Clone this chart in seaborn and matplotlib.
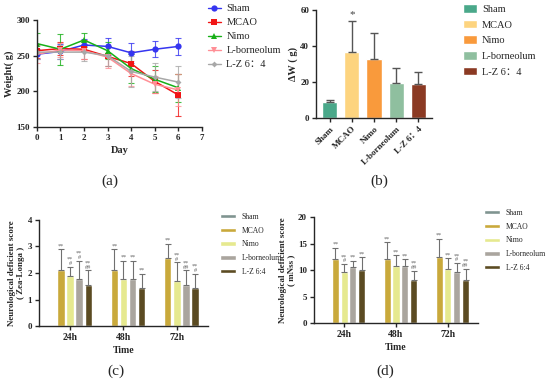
import numpy as np
import pandas as pd
import seaborn as sns
import matplotlib
matplotlib.use("Agg")
import matplotlib.pyplot as plt
from matplotlib.patches import Patch
from matplotlib.lines import Line2D

# ---------------- data ----------------
groups = ["Sham", "MCAO", "Nimo", "L-borneolum", "L-Z 6：4"]

# (a) body weight over days
days = [0, 1, 2, 3, 4, 5, 6]
weight_sham = [252, 256, 265, 263, 254, 259, 263]
weight_mcao = [257, 260, 259, 249, 239, 214, 195]
weight_nimo = [267, 259, 272, 257, 232, 217, 205]
weight_lb = [252, 258, 257, 248, 225, 210, 202]
weight_lz = [255, 255, 255, 250, 228, 220, 213]
err_sham = [7, 10, 8, 12, 14, 11, 12]
err_mcao = [10, 9, 13, 14, 18, 16, 29]
err_nimo = [15, 22, 10, 12, 20, 18, 20]
err_lb = [12, 10, 12, 15, 18, 12, 22]
err_lz = [10, 10, 12, 14, 22, 20, 22]

# (b) weight loss
dw_mean = [9, 36.5, 33, 19.5, 19]
dw_err = [1, 17.5, 14, 8.5, 6.5]

# (c) Zea-Longa score, (d) mNSS score
times = ["24h", "48h", "72h"]
bar_groups = ["Sham", "MCAO", "Nimo", "L-borneolum", "L-Z 6:4"]
zl_mean = {"Sham": [0, 0, 0], "MCAO": [2.1, 2.1, 2.55], "Nimo": [1.88, 1.78, 1.68],
           "L-borneolum": [1.78, 1.78, 1.55], "L-Z 6:4": [1.55, 1.45, 1.45]}
zl_err = {"Sham": [0, 0, 0], "MCAO": [0.8, 0.8, 0.55], "Nimo": [0.35, 0.68, 0.72],
          "L-borneolum": [0.68, 0.68, 0.55], "L-Z 6:4": [0.55, 0.52, 0.52]}
zl_marks = {"Sham": ["", "", ""], "MCAO": ["**", "**", "**"], "Nimo": ["**\n#", "**", "**\n#"],
            "L-borneolum": ["**\n#", "**", "**\n##"], "L-Z 6:4": ["**\n##", "**", "**\n#"]}
mnss_mean = {"Sham": [0, 0, 0], "MCAO": [12, 12, 12.4], "Nimo": [9.7, 10.8, 10.2],
             "L-borneolum": [10.5, 10.7, 9.7], "L-Z 6:4": [10, 8.1, 8.2]}
mnss_err = {"Sham": [0, 0, 0], "MCAO": [2.2, 3.3, 3.5], "Nimo": [1.4, 2.0, 2.0],
            "L-borneolum": [1.3, 1.4, 1.6], "L-Z 6:4": [2.4, 1.8, 2.0]}
mnss_marks = {"Sham": ["", "", ""], "MCAO": ["**", "**", "**"], "Nimo": ["**\n#", "**", "**"],
              "L-borneolum": ["**", "**", "**\n#"], "L-Z 6:4": ["**", "**\n##", "**\n##"]}

line_colors = ["#3535f0", "#f01515", "#18b018", "#ff8f96", "#a8a8a8"]
line_markers = ["o", "s", "^", "v", "D"]
marker_sizes = [4.5, 4.5, 4.5, 4.5, 3]
dw_colors = ["#4aa88a", "#fdd47f", "#f99a3c", "#8fbf9f", "#8b3a23"]
score_colors = ["#7f9490", "#c9a93b", "#e6e98f", "#aaa59e", "#5b4b22"]

# ---------------- style ----------------
sns.set_style("ticks")
plt.rcParams["font.family"] = ["Liberation Serif", "Noto Sans CJK SC", "DejaVu Sans"]
plt.rcParams["axes.linewidth"] = 1.0
plt.rcParams["xtick.major.size"] = 3
plt.rcParams["ytick.major.size"] = 3

fig = plt.figure(figsize=(5.5, 3.85), dpi=100)


def style_axis(ax):
    sns.despine(ax=ax)
    for lab in ax.get_xticklabels() + ax.get_yticklabels():
        lab.set_fontweight("bold")
    ax.tick_params(labelsize=6.5, width=1, pad=2)


# ========== (a) ==========
ax_a = fig.add_axes([0.067, 0.670, 0.300, 0.278])
wdf = pd.DataFrame({
    "Day": days * 5,
    "Weight": weight_sham + weight_mcao + weight_nimo + weight_lb + weight_lz,
    "err": err_sham + err_mcao + err_nimo + err_lb + err_lz,
    "group": np.repeat(groups, len(days)),
})
for g, c in zip(groups, line_colors):
    sub = wdf[wdf["group"] == g]
    ax_a.errorbar(sub["Day"], sub["Weight"], yerr=sub["err"], fmt="none",
                  ecolor=c, elinewidth=0.8, capsize=2, capthick=0.8, alpha=0.8)
for g, c, m, ms in zip(groups, line_colors, line_markers, marker_sizes):
    sns.lineplot(data=wdf[wdf["group"] == g], x="Day", y="Weight", color=c,
                 marker=m, markersize=ms, markeredgewidth=0, linewidth=1.1,
                 legend=False, ax=ax_a)
ax_a.set_xlim(0, 7)
ax_a.set_ylim(150, 300)
ax_a.set_xticks(range(0, 8))
ax_a.set_yticks([150, 200, 250, 300])
ax_a.set_xlabel("Day", fontsize=7.5, fontweight="bold", labelpad=3)
ax_a.set_ylabel("Weight( g)", fontsize=7.5, fontweight="bold", labelpad=2)
style_axis(ax_a)
handles_a = [Line2D([], [], color=c, marker=m, markersize=ms, markeredgewidth=0, linewidth=1)
             for c, m, ms in zip(line_colors, line_markers, marker_sizes)]
ax_a.legend(handles_a, groups, loc="upper left", bbox_to_anchor=(0.37, 1.0),
            bbox_transform=fig.transFigure, frameon=False, fontsize=7.5,
            handlelength=1.3, handletextpad=0.5, labelspacing=0.45, borderaxespad=0)
fig.text(0.2, 0.53, "(a)", ha="center", va="center", fontsize=11)

# ========== (b) ==========
ax_b = fig.add_axes([0.575, 0.694, 0.210, 0.280])
bdf = pd.DataFrame({"group": groups, "dW": dw_mean, "err": dw_err})
sns.barplot(data=bdf, x="group", y="dW", hue="group", palette=dw_colors,
            saturation=1, width=0.68, legend=False, ax=ax_b)
ax_b.errorbar(range(len(groups)), dw_mean, yerr=[np.zeros(len(groups)), dw_err],
              fmt="none", ecolor="#555555", elinewidth=1, capsize=3, capthick=1)
ax_b.text(1, dw_mean[1] + dw_err[1] + 1, "*", ha="center", va="bottom", fontsize=8, color="#444444")
ax_b.set_ylim(0, 60)
ax_b.set_xlim(-0.6, 4.6)
ax_b.set_yticks([0, 20, 40, 60])
ax_b.set_xlabel("")
ax_b.set_ylabel("ΔW ( g)", fontsize=7.5, fontweight="bold", labelpad=2)
ax_b.set_xticks(range(len(groups)))
ax_b.set_xticklabels(groups, rotation=45, ha="right", rotation_mode="anchor")
style_axis(ax_b)
handles_b = [Patch(facecolor=c) for c in dw_colors]
ax_b.legend(handles_b, groups, loc="upper left", bbox_to_anchor=(0.835, 1.0),
            bbox_transform=fig.transFigure, frameon=False, fontsize=7.5,
            handlelength=1.3, handleheight=0.9, handletextpad=0.5,
            labelspacing=0.55, borderaxespad=0)
fig.text(0.69, 0.53, "(b)", ha="center", va="center", fontsize=11)


# ========== (c) / (d) ==========
def score_panel(rect, means, errs, marks, ylim, yticks, ylabel, mark_off, leg_anchor, tag, tag_x):
    ax = fig.add_axes(rect)
    df = pd.DataFrame({
        "Time": times * len(bar_groups),
        "score": sum([means[g] for g in bar_groups], []),
        "group": np.repeat(bar_groups, len(times)),
    })
    sns.barplot(data=df, x="Time", y="score", hue="group", hue_order=bar_groups,
                palette=score_colors, saturation=1, width=0.85, gap=0.2,
                legend=False, ax=ax)
    for cont, g in zip(ax.containers, bar_groups):
        for i, bar in enumerate(cont):
            xc = bar.get_x() + bar.get_width() / 2
            top = means[g][i] + errs[g][i]
            if means[g][i] > 0:
                ax.errorbar(xc, means[g][i], yerr=[[0], [errs[g][i]]], fmt="none",
                            ecolor="#707070", elinewidth=0.8, capsize=2, capthick=0.8)
            if marks[g][i]:
                ax.text(xc, top + mark_off, marks[g][i], ha="center", va="bottom",
                        fontsize=4.5, color="#666666", linespacing=0.8)
    ax.set_ylim(*ylim)
    ax.set_xlim(-0.58, 2.58)
    ax.set_yticks(yticks)
    ax.set_xlabel("Time", fontsize=7, fontweight="bold", labelpad=3)
    ax.set_ylabel(ylabel, fontsize=6.5, fontweight="bold", labelpad=2, linespacing=1.1)
    style_axis(ax)
    for lab in ax.get_xticklabels():
        lab.set_fontsize(7)
    handles = [Patch(facecolor=c) for c in score_colors]
    ax.legend(handles, bar_groups, loc="upper left", bbox_to_anchor=leg_anchor,
              bbox_transform=fig.transFigure, frameon=False, fontsize=5.5,
              handlelength=2.0, handleheight=0.5, labelspacing=0.75, borderaxespad=0)
    fig.text(tag_x, 0.035, tag, ha="center", va="center", fontsize=11)
    return ax


score_panel([0.071, 0.153, 0.307, 0.276], zl_mean, zl_err, zl_marks, (0, 4), [0, 1, 2, 3, 4],
            "Neurological deficient score\n( Zea-Longa )", 0.03, (0.395, 0.455), "(c)", 0.21)
score_panel([0.571, 0.161, 0.298, 0.275], mnss_mean, mnss_err, mnss_marks, (0, 20), [0, 5, 10, 15, 20],
            "Neurological deficient score\n( mNss )", 0.15, (0.875, 0.465), "(d)", 0.70)

fig.savefig("out.png", dpi=100)
